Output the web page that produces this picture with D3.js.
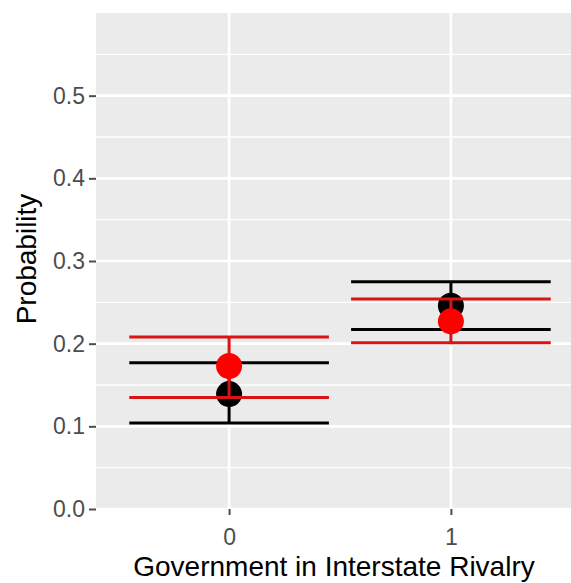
<!DOCTYPE html>
<html lang="en">
<head>
    <meta charset="UTF-8">
    <title>Probability by Government in Interstate Rivalry</title>
    <script src="https://cdn.jsdelivr.net/npm/d3@7"></script>
    <style>
        body { margin: 0; background: #fff; }
        text { font-family: "Liberation Sans", Arial, sans-serif; }
    </style>
</head>
<body>
    <div id="graphic"></div>
    <script>
        // Chart data
        var categories = ["0", "1"];
        var blackEst   = [0.139, 0.246];
        var blackLower = [0.104, 0.217];
        var blackUpper = [0.177, 0.275];
        var redEst     = [0.173, 0.227];
        var redLower   = [0.135, 0.201];
        var redUpper   = [0.208, 0.254];
        var yTicks     = [0, 0.1, 0.2, 0.3, 0.4, 0.5];
        var yMinor     = [0.05, 0.15, 0.25, 0.35, 0.45, 0.55];

        var width = 571;
        var height = 583;

        // Panel box (runs off the right edge like the original crop)
        var panel = { left: 96, top: 13, right: 584, bottom: 509 };

        var x = d3.scalePoint()
            .domain(categories)
            .range([panel.left, panel.right])
            .padding(0.6);

        var y = d3.scaleLinear()
            .domain([0, 0.6])
            .range([panel.bottom, panel.top]);

        var capHalf = x.step() * 0.45;

        var svg = d3.select('#graphic')
            .append('svg')
            .attr('width', width)
            .attr('height', height);

        // panel background
        svg.append('rect')
            .attr('x', panel.left)
            .attr('y', panel.top)
            .attr('width', panel.right - panel.left)
            .attr('height', panel.bottom - panel.top)
            .attr('fill', '#ebebeb');

        // grid lines
        svg.append('g').selectAll('line')
            .data(yMinor)
            .join('line')
            .attr('x1', panel.left).attr('x2', panel.right)
            .attr('y1', d => y(d)).attr('y2', d => y(d))
            .attr('stroke', '#fff').attr('stroke-width', 1.3);

        svg.append('g').selectAll('line')
            .data(yTicks)
            .join('line')
            .attr('x1', panel.left).attr('x2', panel.right)
            .attr('y1', d => y(d)).attr('y2', d => y(d))
            .attr('stroke', '#fff').attr('stroke-width', 2.6);

        svg.append('g').selectAll('line')
            .data(categories)
            .join('line')
            .attr('x1', d => x(d)).attr('x2', d => x(d))
            .attr('y1', panel.top).attr('y2', panel.bottom)
            .attr('stroke', '#fff').attr('stroke-width', 2.6);

        // axes
        var yAxis = svg.append('g')
            .attr('transform', `translate(${panel.left},0)`)
            .call(d3.axisLeft(y).tickValues(yTicks).tickFormat(d3.format('.1f')).tickSize(7).tickPadding(4));

        var xAxis = svg.append('g')
            .attr('transform', `translate(0,${panel.bottom})`)
            .call(d3.axisBottom(x).tickSize(6).tickPadding(14));

        [yAxis, xAxis].forEach(function(ax) {
            ax.select('.domain').remove();
            ax.selectAll('.tick line').attr('stroke', '#4d4d4d').attr('stroke-width', 2);
            ax.selectAll('.tick text')
                .attr('fill', '#4d4d4d')
                .style('font-size', '23px');
        });

        // axis titles
        svg.append('text')
            .attr('x', (panel.left + panel.right) / 2 - 6)
            .attr('y', 576)
            .attr('text-anchor', 'middle')
            .style('font-size', '28px')
            .attr('fill', '#000')
            .text('Government in Interstate Rivalry');

        svg.append('text')
            .attr('transform', `translate(36,${(panel.top + panel.bottom) / 2 - 2}) rotate(-90)`)
            .attr('text-anchor', 'middle')
            .style('font-size', '28px')
            .attr('fill', '#000')
            .text('Probability');

        // error bars + points, black series first then red on top
        function drawSeries(est, lower, upper, lineColor, pointColor) {
            var rows = categories.map((c, i) => ({ cat: c, est: est[i], lo: lower[i], hi: upper[i] }));
            var g = svg.append('g');

            g.selectAll('.stem')
                .data(rows)
                .join('line')
                .attr('x1', d => x(d.cat)).attr('x2', d => x(d.cat))
                .attr('y1', d => y(d.lo)).attr('y2', d => y(d.hi))
                .attr('stroke', lineColor).attr('stroke-width', 3);

            g.selectAll('.cap-lo')
                .data(rows)
                .join('line')
                .attr('x1', d => x(d.cat) - capHalf).attr('x2', d => x(d.cat) + capHalf)
                .attr('y1', d => y(d.lo)).attr('y2', d => y(d.lo))
                .attr('stroke', lineColor).attr('stroke-width', 3);

            g.selectAll('.cap-hi')
                .data(rows)
                .join('line')
                .attr('x1', d => x(d.cat) - capHalf).attr('x2', d => x(d.cat) + capHalf)
                .attr('y1', d => y(d.hi)).attr('y2', d => y(d.hi))
                .attr('stroke', lineColor).attr('stroke-width', 3);

            g.selectAll('circle')
                .data(rows)
                .join('circle')
                .attr('cx', d => x(d.cat))
                .attr('cy', d => y(d.est))
                .attr('r', 13)
                .attr('fill', pointColor);
        }

        drawSeries(blackEst, blackLower, blackUpper, '#000', '#000');
        drawSeries(redEst, redLower, redUpper, '#d81414', '#ff0000');
    </script>
</body>
</html>
